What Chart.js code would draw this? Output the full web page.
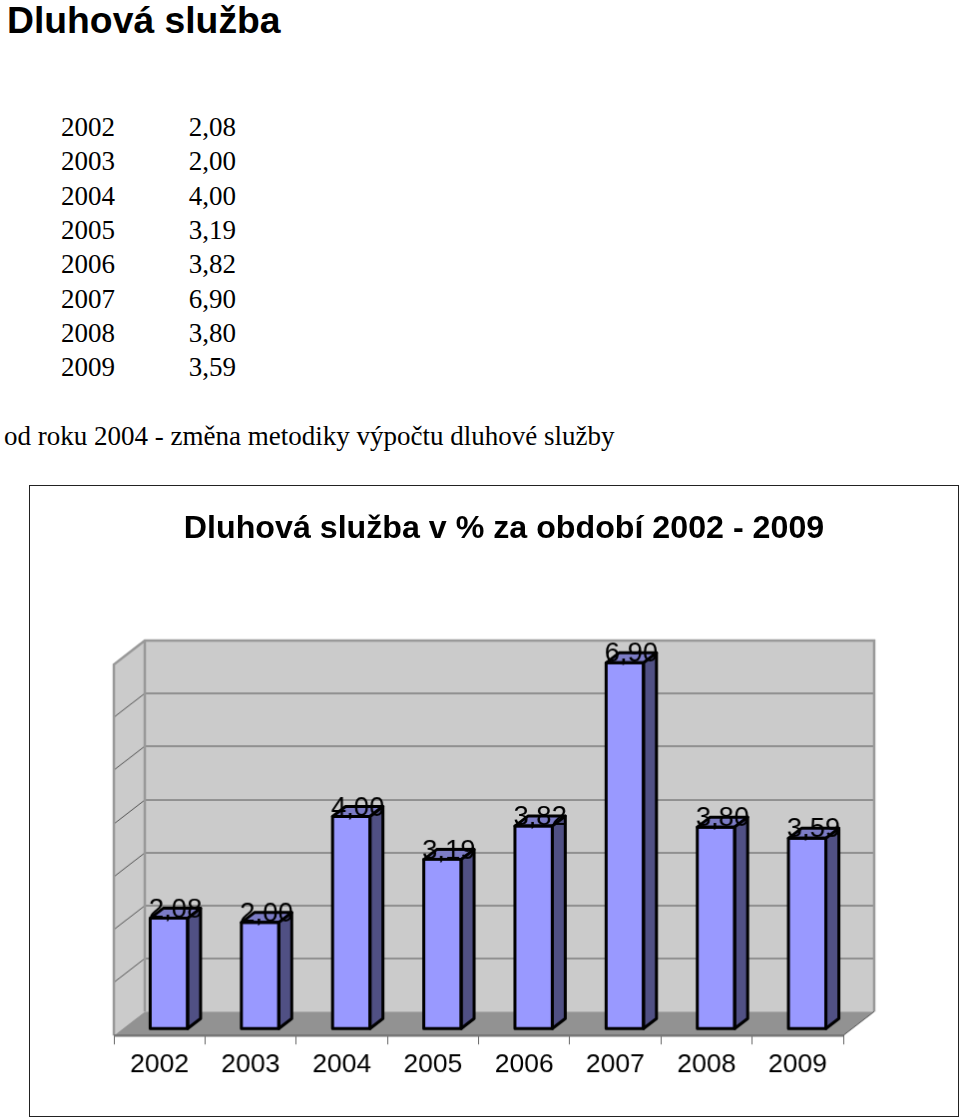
<!DOCTYPE html>
<html>
<head>
<meta charset="utf-8">
<title>Dluhová služba</title>
<script src="https://cdn.jsdelivr.net/npm/chart.js@4"></script>
<style>
  html, body { margin: 0; padding: 0; background: #fff; overflow: hidden; }
  body { position: relative; width: 960px; height: 1120px; color: #000; }
  h1 { position: absolute; left: 7px; top: 0; margin: 0; font: bold 37.3px/40px "Liberation Sans", Arial, sans-serif; }
  .radek { position: absolute; font: 27px/30px "Liberation Serif", "Times New Roman", serif; white-space: nowrap; }
  .hodnota { width: 80px; text-align: right; }
  #nadpis { position: absolute; left: 104px; width: 800px; top: 507px; text-align: center; font: bold 32.2px/40px "Liberation Sans", Arial, sans-serif; }
  #graf { position: absolute; left: 29px; top: 485px; border: 1px solid #222; }
</style>
</head>
<body>
<h1>Dluhová služba</h1>
<div id="tabulka"></div>
<div class="radek" id="poznamka" style="left:4px; top:421px"></div>
<canvas id="graf" width="930" height="632"></canvas>
<div id="nadpis"></div>
<script>
const roky = ["2002", "2003", "2004", "2005", "2006", "2007", "2008", "2009"];
const hodnoty = [2.08, 2.00, 4.00, 3.19, 3.82, 6.90, 3.80, 3.59];
const poznamka = "od roku 2004 - změna metodiky výpočtu dluhové služby";
const nadpis = "Dluhová služba v % za období 2002 - 2009";

const carka = v => v.toFixed(2).replace(".", ",");

// tabulka nad grafem
const tabulka = document.getElementById("tabulka");
roky.forEach((rok, i) => {
  const top = 112 + i * 34.3;
  tabulka.innerHTML += `<div class="radek" style="left:61px; top:${top}px">${rok}</div>`;
  tabulka.innerHTML += `<div class="radek hodnota" style="left:156px; top:${top}px">${carka(hodnoty[i])}</div>`;
});
document.getElementById("poznamka").textContent = poznamka;
document.getElementById("nadpis").textContent = nadpis;

// hloubka steny a sloupce (px)
const HLOUBKA = { x: 31, y: -24 };
const SLOUPEC = { x: 13, y: -10 };
const POSUN = { x: 9.5, y: -7 };

const steny = {
  id: "steny",
  beforeDatasetsDraw(chart) {
    const { ctx, chartArea: a, scales: { y } } = chart;
    const dx = HLOUBKA.x, dy = HLOUBKA.y;
    ctx.save();
    // zadni a leva stena
    ctx.fillStyle = "#cbcbcb";
    ctx.fillRect(a.left + dx, a.top + dy, a.right - a.left, a.bottom - a.top);
    ctx.beginPath();
    ctx.moveTo(a.left, a.top);
    ctx.lineTo(a.left + dx, a.top + dy);
    ctx.lineTo(a.left + dx, a.bottom + dy);
    ctx.lineTo(a.left, a.bottom);
    ctx.closePath();
    ctx.fill();
    // mrizka
    y.ticks.forEach(t => {
      const py = Math.round(y.getPixelForValue(t.value));
      if (t.value === 0 || t.value === y.max) return;
      ctx.strokeStyle = "#7d7d7d";
      ctx.lineWidth = 1.5;
      ctx.beginPath();
      ctx.moveTo(a.left + dx, py + dy);
      ctx.lineTo(a.right + dx, py + dy);
      ctx.stroke();
      ctx.strokeStyle = "#555";
      ctx.lineWidth = 1;
      ctx.beginPath();
      ctx.moveTo(a.left, py);
      ctx.lineTo(a.left + dx, py + dy);
      ctx.stroke();
    });
    // podlaha
    ctx.fillStyle = "#929292";
    ctx.beginPath();
    ctx.moveTo(a.left, a.bottom);
    ctx.lineTo(a.right, a.bottom);
    ctx.lineTo(a.right + dx, a.bottom + dy);
    ctx.lineTo(a.left + dx, a.bottom + dy);
    ctx.closePath();
    ctx.fill();
    // obrysy sten
    ctx.strokeStyle = "#999";
    ctx.lineWidth = 2.5;
    ctx.beginPath();
    ctx.moveTo(a.left, a.bottom);
    ctx.lineTo(a.left, a.top);
    ctx.lineTo(a.left + dx, a.top + dy);
    ctx.lineTo(a.right + dx, a.top + dy);
    ctx.lineTo(a.right + dx, a.bottom + dy);
    ctx.moveTo(a.left + dx, a.top + dy);
    ctx.lineTo(a.left + dx, a.bottom + dy);
    ctx.stroke();
    ctx.strokeStyle = "#777";
    ctx.lineWidth = 2.5;
    ctx.beginPath();
    ctx.moveTo(a.left, a.bottom);
    ctx.lineTo(a.right, a.bottom);
    ctx.stroke();
    ctx.lineWidth = 1;
    ctx.strokeStyle = "#555";
    ctx.beginPath();
    ctx.moveTo(a.right, a.bottom);
    ctx.lineTo(a.right + dx, a.bottom + dy);
    ctx.stroke();
    ctx.restore();
    // sloupce se kresli posunute do prostoru
    ctx.save();
    ctx.translate(POSUN.x, POSUN.y);
  },
  afterDatasetsDraw(chart) {
    const { ctx } = chart;
    const sx = SLOUPEC.x, sy = SLOUPEC.y;
    chart.getDatasetMeta(0).data.forEach((bar, i) => {
      const l = bar.x - bar.width / 2, r = bar.x + bar.width / 2;
      const t = bar.y, b = bar.base;
      ctx.lineWidth = 3;
      ctx.lineJoin = "round";
      ctx.strokeStyle = "#000";
      // horni plocha
      ctx.fillStyle = "#7c7cc6";
      ctx.beginPath();
      ctx.moveTo(l, t);
      ctx.lineTo(l + sx, t + sy);
      ctx.lineTo(r + sx, t + sy);
      ctx.lineTo(r, t);
      ctx.closePath();
      ctx.fill();
      ctx.stroke();
      // bocni plocha
      ctx.fillStyle = "#505084";
      ctx.beginPath();
      ctx.moveTo(r, t);
      ctx.lineTo(r + sx, t + sy);
      ctx.lineTo(r + sx, b + sy);
      ctx.lineTo(r, b);
      ctx.closePath();
      ctx.fill();
      ctx.stroke();
      ctx.strokeRect(l, t, bar.width, b - t);
    });
    // popisky hodnot
    ctx.fillStyle = "#000";
    ctx.font = '27.5px "Liberation Sans", Arial, sans-serif';
    ctx.textAlign = "center";
    ctx.textBaseline = "alphabetic";
    chart.getDatasetMeta(0).data.forEach((bar, i) => {
      ctx.fillText(carka(hodnoty[i]), bar.x + sx / 2, bar.y - 1);
    });
    ctx.restore();
  }
};

new Chart(document.getElementById("graf"), {
  type: "bar",
  data: {
    labels: roky,
    datasets: [{
      label: "Dluhová služba",
      data: hodnoty,
      backgroundColor: "#9999ff",
      borderWidth: 0,
      barPercentage: 0.41,
      categoryPercentage: 1
    }]
  },
  options: {
    responsive: false,
    animation: false,
    layout: { padding: { left: 76, right: 115, top: 179, bottom: 30 } },
    plugins: { legend: { display: false }, tooltip: { enabled: false }, title: { display: false } },
    scales: {
      x: {
        border: { display: false },
        grid: { drawOnChartArea: false, drawTicks: true, tickLength: 9, color: "#666" },
        ticks: { color: "#000", padding: 5, maxRotation: 0, autoSkip: false, font: { family: '"Liberation Sans", Arial, sans-serif', size: 26.5 } }
      },
      y: {
        min: 0,
        max: 7,
        border: { display: false },
        grid: { display: false },
        ticks: { display: false, stepSize: 1 }
      }
    }
  },
  plugins: [steny]
});
</script>
</body>
</html>
